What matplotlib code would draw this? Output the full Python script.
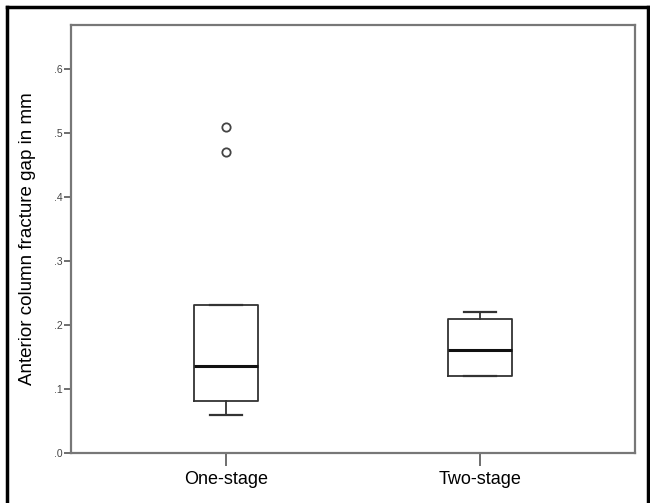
import matplotlib.pyplot as plt
from matplotlib.lines import Line2D

plt.rcParams['font.family'] = ['Liberation Sans', 'DejaVu Sans']

# values (mm)
groups = ["One-stage", "Two-stage"]
whisker_low = [0.060, 0.120]
q1 = [0.081, 0.120]
median = [0.136, 0.161]
q3 = [0.231, 0.210]
whisker_high = [0.231, 0.220]
outliers = [[0.51, 0.47], []]
yticks = [0.0, 0.1, 0.2, 0.3, 0.4, 0.5, 0.6]
ytick_labels = [".0", ".1", ".2", ".3", ".4", ".5", ".6"]

stats = []
for i, g in enumerate(groups):
    stats.append({
        "label": g,
        "whislo": whisker_low[i],
        "q1": q1[i],
        "med": median[i],
        "q3": q3[i],
        "whishi": whisker_high[i],
        "fliers": outliers[i],
    })

fig = plt.figure(figsize=(6.5, 5.03), dpi=100)
ax = fig.add_axes([71 / 650, 50 / 503, 564 / 650, 428 / 503])

line = dict(color="#333333", linewidth=1.3)
ax.bxp(stats, positions=[1, 2], widths=0.25,
       boxprops=line, whiskerprops=line,
       capprops=dict(color="#333333", linewidth=1.6), capwidths=0.125,
       medianprops=dict(color="#111111", linewidth=2.2),
       flierprops=dict(marker="o", markersize=6, markerfacecolor="none",
                       markeredgecolor="#444444", markeredgewidth=1.3))

ax.set_xlim(0.39, 2.61)
ax.set_ylim(0, 0.669)
ax.set_yticks(yticks)
ax.set_yticklabels(ytick_labels, fontsize=7.5, color="#444444")
ax.set_xticks([1, 2])
ax.set_xticklabels(groups, fontsize=13)
ax.tick_params(axis="y", length=5, width=1.2, color="#555555", pad=1)
ax.tick_params(axis="x", length=9, width=1.2, color="#555555", pad=4)
ax.set_ylabel("Anterior column fracture gap in mm", fontsize=13.5, labelpad=13)

for s in ax.spines.values():
    s.set_color("#777777")
    s.set_linewidth(1.6)

# outer frame of the figure
fig.add_artist(Line2D([7 / 650, 7 / 650], [0, 1 - 7 / 503], transform=fig.transFigure, color="black", linewidth=2.5))
fig.add_artist(Line2D([7 / 650, 648 / 650], [1 - 7 / 503, 1 - 7 / 503], transform=fig.transFigure, color="black", linewidth=2.5))
fig.add_artist(Line2D([648 / 650, 648 / 650], [0, 1 - 7 / 503], transform=fig.transFigure, color="black", linewidth=2.5))

fig.savefig("out.png", dpi=100)
